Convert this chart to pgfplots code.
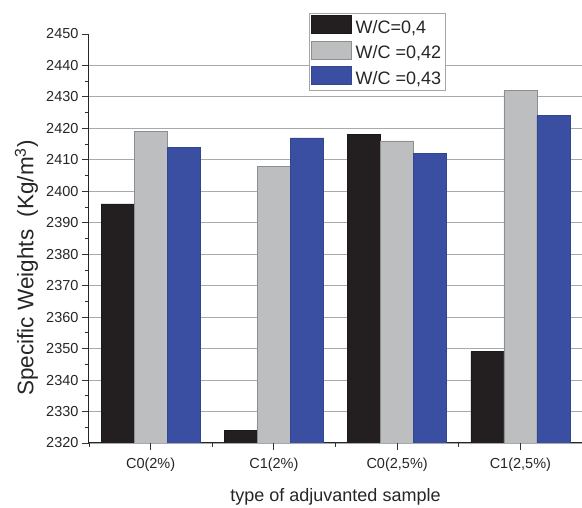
\documentclass[border=0pt]{standalone}
\usepackage{pgfplots}
\pgfplotsset{compat=1.18}
\usepackage{fontspec}
\setmainfont{Liberation Sans}
\definecolor{barblack}{HTML}{231F20}
\definecolor{bargray}{HTML}{BCBEC0}
\definecolor{bargrayedge}{HTML}{8C8E90}
\definecolor{barblue}{HTML}{3A4EA2}
\definecolor{gridgray}{HTML}{A7A9AC}
\begin{document}
\begin{tikzpicture}
\begin{axis}[
  at={(0,0)}, anchor=south west,
  scale only axis, width=493pt, height=409pt,
  xmin=-0.5, xmax=3.5, ymin=2320, ymax=2450,
  axis x line=bottom, axis y line=left,
  axis line style={-, line width=1pt, color=black!85},
  xtick={0,1,2,3},
  xticklabels={{C0(2\%)},{C1(2\%)},{C0(2,5\%)},{C1(2,5\%)}},
  minor xtick={-0.5,0.5,1.5,2.5,3.5},
  ytick={2320,2330,...,2440},
  extra y ticks={2450},
  extra y tick style={grid=none},
  minor y tick num=1,
  ymajorgrids,
  major grid style={gridgray, line width=1.1pt},
  tick align=outside,
  major tick length=7pt, minor tick length=4pt,
  tick style={black!80, line width=0.9pt},
  /pgf/number format/1000 sep={},
  /pgf/number format/assume math mode=true,
  ticklabel style={font=\fontsize{14.5}{16}\selectfont, color=black!85},
  xticklabel style={yshift=-4pt},
  ybar=0pt, bar width=33pt,
  xlabel={type of adjuvanted sample},
  ylabel={Specific Weights\ \ (Kg/m\textsuperscript{3})},
  label style={color=black!85},
  xlabel style={font=\fontsize{18}{20}\selectfont, at={(axis description cs:0.5,0)}, anchor=center, yshift=-54pt},
  ylabel style={font=\fontsize{22.5}{24}\selectfont, at={(axis description cs:-0.127,0.428)}, anchor=center},
  legend style={at={(0.446,1.051)}, anchor=north west, draw=gray!70, fill=white,
    font=\fontsize{18}{20}\selectfont, row sep=4pt, inner sep=2pt,
    text=black!85, /tikz/every odd column/.append style={column sep=2pt}},
  legend cell align=left,
  legend image code/.code={\draw[#1] (0pt,-6pt) rectangle (40pt,12pt);},
]
\addplot[fill=barblack, draw=barblack!80!black, line width=0.6pt] coordinates {(0,2396) (1,2324) (2,2418) (3,2349)};
\addplot[fill=bargray, draw=bargrayedge, line width=0.6pt] coordinates {(0,2419) (1,2408) (2,2416) (3,2432)};
\addplot[fill=barblue, draw=barblue!90!black, line width=0.6pt] coordinates {(0,2414) (1,2417) (2,2412) (3,2424)};
\legend{{W/C=0,4},{W/C =0,42},{W/C =0,43}}
\end{axis}
\pgfresetboundingbox
\path (-89pt,-65pt) rectangle (493pt,443pt);
\end{tikzpicture}
\end{document}
